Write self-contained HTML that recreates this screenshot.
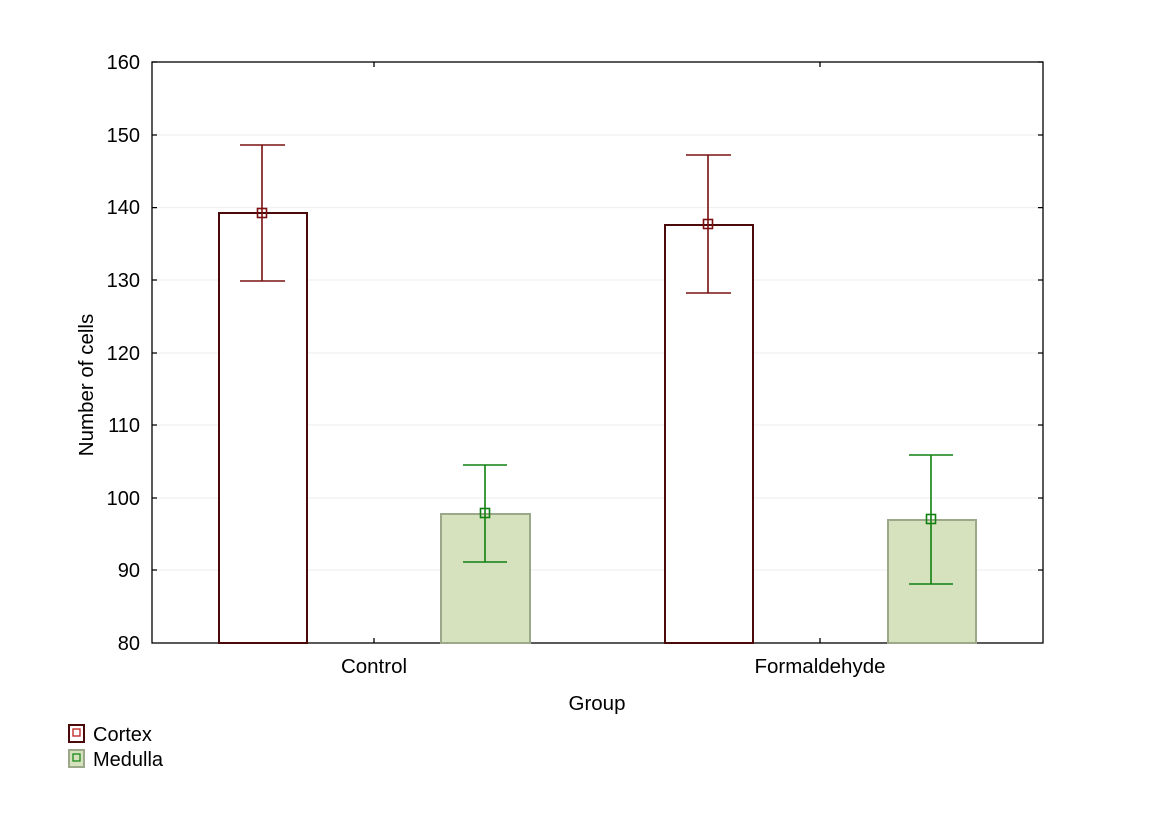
<!DOCTYPE html><html><head><style>body{margin:0;background:#fff}</style></head><body>
<svg width="1166" height="827" xmlns="http://www.w3.org/2000/svg" font-family="Liberation Sans, sans-serif">
<rect width="1166" height="827" fill="#fff"/>
<g stroke="#eee" stroke-width="1">
<line x1="152" x2="1043" y1="135" y2="135"/><line x1="152" x2="1043" y1="207.6" y2="207.6"/><line x1="152" x2="1043" y1="280" y2="280"/><line x1="152" x2="1043" y1="353" y2="353"/><line x1="152" x2="1043" y1="425" y2="425"/><line x1="152" x2="1043" y1="498" y2="498"/><line x1="152" x2="1043" y1="570" y2="570"/>
</g>
<g stroke="#000" stroke-width="1.3">
<rect x="152" y="62" width="891" height="581" fill="none"/>
<path d="M152 62h5M152 135h5M152 207.6h5M152 280h5M152 353h5M152 425h5M152 498h5M152 570h5M1043 62h-5M1043 135h-5M1043 207.6h-5M1043 280h-5M1043 353h-5M1043 425h-5M1043 498h-5M1043 570h-5M374 643v-5M820 643v-5M374 62v5M820 62v5"/>
</g>
<g font-size="20" text-anchor="end" fill="#000">
<text x="140" y="69">160</text><text x="140" y="142">150</text><text x="140" y="214">140</text><text x="140" y="287">130</text><text x="140" y="360">120</text><text x="140" y="432">110</text><text x="140" y="505">100</text><text x="140" y="577">90</text><text x="140" y="650">80</text>
</g>
<g font-size="20.5" text-anchor="middle">
<text x="374" y="673">Control</text><text x="820" y="673">Formaldehyde</text><text x="597" y="710">Group</text>
<text transform="translate(93 385) rotate(-90)">Number of cells</text>
</g>
<rect x="219" y="213" width="88" height="430" fill="#fff" stroke="#4a0a0a" stroke-width="2"/>
<rect x="665" y="225" width="88" height="418" fill="#fff" stroke="#4a0a0a" stroke-width="2"/>
<rect x="441" y="514" width="89" height="129" fill="#d6e2be" stroke="#9ba88a" stroke-width="2"/>
<rect x="888" y="520" width="88" height="123" fill="#d6e2be" stroke="#9ba88a" stroke-width="2"/>
<g stroke="#7a1010" stroke-width="1.6" fill="none">
<path d="M262 145v136M240 145h45M240 281h45M708 155v138M686 155h45M686 293h45"/>
<rect x="257.5" y="208.5" width="9" height="9"/><rect x="703.5" y="219.5" width="9" height="9"/>
</g>
<g stroke="#108010" stroke-width="1.6" fill="none">
<path d="M485 465v97M463 465h44M463 562h44M931 455v129M909 455h44M909 584h44"/>
<rect x="480.5" y="508.5" width="9" height="9"/><rect x="926.5" y="514.5" width="9" height="9"/>
</g>
<rect x="69" y="725" width="15" height="17" fill="#fff" stroke="#4a0a0a" stroke-width="2"/>
<rect x="73" y="729" width="7" height="7" fill="none" stroke="#c02020" stroke-width="1.3"/>
<rect x="69" y="750" width="15" height="17" fill="#d6e2be" stroke="#9ba88a" stroke-width="2"/>
<rect x="73" y="754" width="7" height="7" fill="none" stroke="#1a8a1a" stroke-width="1.3"/>
<text x="93" y="741" font-size="20">Cortex</text>
<text x="93" y="766" font-size="20">Medulla</text>
</svg></body></html>
